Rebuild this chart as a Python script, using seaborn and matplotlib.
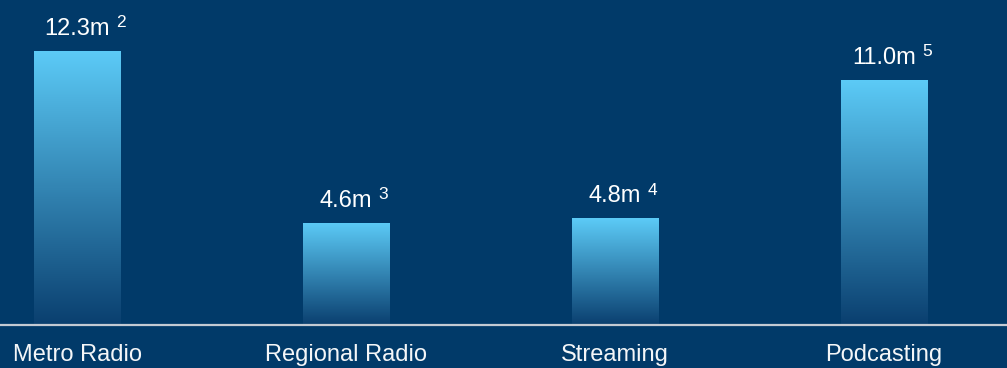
import numpy as np
import pandas as pd
import matplotlib
matplotlib.use("Agg")
import matplotlib.pyplot as plt
from matplotlib.colors import LinearSegmentedColormap
import seaborn as sns

categories = ["Metro Radio", "Regional Radio", "Streaming", "Podcasting"]
values = [12.3, 4.6, 4.8, 11.0]
value_labels = ["12.3m", "4.6m", "4.8m", "11.0m"]
footnotes = ["2", "3", "4", "5"]

BG = "#013a69"
TOP = "#5ccbf7"
BOTTOM = "#0a3f6f"

sns.set_theme(style="white")
plt.rcParams["font.family"] = ["Liberation Sans", "DejaVu Sans"]

df = pd.DataFrame({"category": categories, "value": values})

fig = plt.figure(figsize=(10.07, 3.68), dpi=100, facecolor=BG)
ax = fig.add_axes([0, 43 / 368, 1, 325 / 368])
ax.set_facecolor(BG)

sns.barplot(data=df, x="category", y="value", color=TOP, width=0.32,
            saturation=1, ax=ax, zorder=2)

ax.set_xlim(-77 / 269, (1007 - 77) / 269)
ax.set_ylim(0, 325 / 22.28)

cmap = LinearSegmentedColormap.from_list("g", [BOTTOM, TOP])
grad = np.linspace(0, 1, 256).reshape(-1, 1)
for p in ax.patches:
    x0, y0 = p.get_x(), p.get_y()
    w, h = p.get_width(), p.get_height()
    im = ax.imshow(grad, cmap=cmap, origin="lower", aspect="auto",
                   extent=[x0, x0 + w, y0, y0 + h], zorder=3)
    im.set_clip_path(p)
    p.set_alpha(0)

for s in ["top", "right", "left"]:
    ax.spines[s].set_visible(False)
ax.spines["bottom"].set_color("#c3cad3")
ax.spines["bottom"].set_linewidth(1.6)
ax.spines["bottom"].set_zorder(5)

ax.set_xlabel("")
ax.set_ylabel("")
ax.set_yticks([])
ax.tick_params(axis="x", length=0, pad=14, labelsize=17, labelcolor="#f4f6f8")

texts = []
for i, (v, lab) in enumerate(zip(values, value_labels)):
    t = ax.annotate(lab, xy=(i, v), xytext=(0, 11.5), textcoords="offset points",
                    ha="center", va="baseline", fontsize=17, color="white")
    texts.append(t)

for t, fn in zip(texts, footnotes):
    ax.annotate(fn, xy=(1, 0), xycoords=t, xytext=(4.5, 9),
                textcoords="offset points", ha="left", va="baseline",
                fontsize=12.5, color="white")

fig.savefig("out.png", dpi=100, facecolor=BG)
